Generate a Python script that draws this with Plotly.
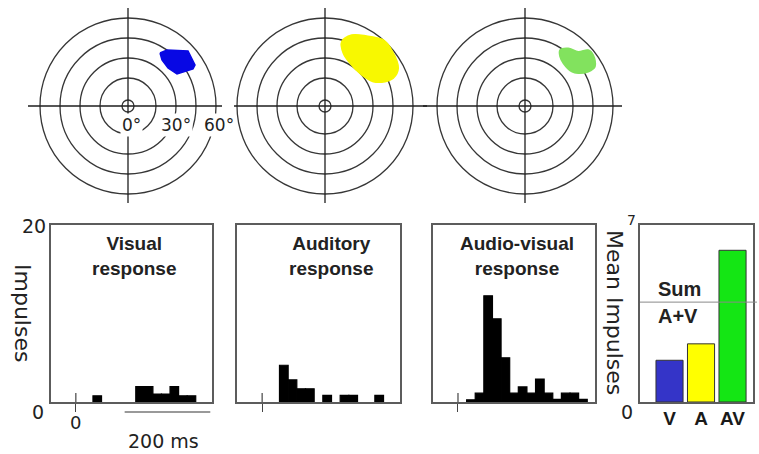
import plotly.graph_objects as go

W, H = 759, 454

# ---------------- receptive-field maps ----------------
ring_radii = [6, 28, 48, 68, 88]          # fixation circle + 15° rings (plot units)
ecc_labels = ["0°", "30°", "60°"]
ecc_label_rings = [0, 2, 4]

# field outlines: offsets from fixation (right / up positive)
visual_rf_x = [32, 39, 60, 67, 65, 49, 40, 34]
visual_rf_y = [53, 56, 55, 41, 37, 32, 38, 46]
auditory_rf_x = [16.7, 26.7, 41.7, 58.3, 66.7, 73.3, 68.3, 60, 48.3, 36.7, 25, 18.3]
auditory_rf_y = [64.3, 71, 70, 66, 56, 37.7, 27.7, 24.3, 24.3, 31, 42.7, 52.7]
bimodal_rf_x = [35, 43.3, 53.3, 63.3, 68.3, 70, 63.3, 53.3, 46.7, 38.3, 35]
bimodal_rf_y = [56, 57.7, 54.3, 56, 51, 39.3, 34.3, 32.7, 34.3, 42.7, 49.3]
rf_colors = ["#0808e4", "#f8f800", "#82e25e"]

# ---------------- peristimulus time histograms ----------------
bin_width = 20  # ms
visual_bins = [40, 140, 160, 180, 200, 220, 240, 260]
visual_counts = [0.7, 1.75, 1.75, 0.9, 0.9, 1.75, 0.7, 0.7]
auditory_bins = [40, 60, 80, 100, 140, 180, 200, 260]
auditory_counts = [4.15, 2.5, 1.5, 1.5, 0.75, 0.75, 0.75, 0.75]
av_bins = [20, 40, 60, 80, 100, 120, 140, 160, 180, 200, 220, 240, 260, 280]
av_counts = [0.25, 1, 12, 9.4, 5, 1, 1.7, 1, 2.6, 1, 0.3, 1, 1, 0.3]
psth_titles = ["Visual<br>response", "Auditory<br>response", "Audio-visual<br>response"]
psth_ymax = 20
time_range = [-58, 318]
scale_bar_ms = [114, 314]

# ---------------- mean response ----------------
mean_labels = ["V", "A", "AV"]
mean_values = [1.65, 2.3, 6.0]
mean_colors = ["#3434c8", "#ffff00", "#14e614"]
mean_ymax = 7
sum_av = mean_values[0] + mean_values[1]

# ---------------- layout helpers ----------------
def dom_x(a, b):
    return [a / W, b / W]

def dom_y(top, bottom):
    return [1 - bottom / H, 1 - top / H]

SANS = "DejaVu Sans"
ARIAL = "Liberation Sans, Arial"
TXT = "#222"

fig = go.Figure()
layout = dict(
    width=W, height=H, margin=dict(l=0, r=0, t=0, b=0),
    paper_bgcolor="white", plot_bgcolor="rgba(0,0,0,0)",
    showlegend=False, shapes=[], annotations=[],
)

def label(text, xref, yref, x, y, size, family=SANS, **kw):
    d = dict(text=text, xref=xref, yref=yref, x=x, y=y, showarrow=False,
             xanchor="center", yanchor="middle", font=dict(family=family, size=size, color=TXT))
    d.update(kw)
    layout["annotations"].append(d)

# ---- polar field diagrams (subplots 1-3) ----
centres = [128, 325, 525]
half = 102
hline_extent = [(-100, 94), (-91, 102), (-102, 97)]
rfs = [(visual_rf_x, visual_rf_y, "linear"),
       (auditory_rf_x, auditory_rf_y, "spline"),
       (bimodal_rf_x, bimodal_rf_y, "spline")]
for i, cx in enumerate(centres):
    n = i + 1
    xa, ya = f"x{n}", f"y{n}"
    layout[f"xaxis{n}"] = dict(domain=dom_x(cx - half, cx + half), range=[-half, half], anchor=ya,
                               visible=False, fixedrange=True)
    layout[f"yaxis{n}"] = dict(domain=dom_y(106 - half, 106 + half), range=[-half, half], anchor=xa,
                               visible=False, fixedrange=True)
    for r in ring_radii:
        layout["shapes"].append(dict(type="circle", xref=xa, yref=ya, x0=-r, x1=r, y0=-r, y1=r,
                                     line=dict(color="#363636", width=1.3), layer="below"))
    x0, x1 = hline_extent[i]
    layout["shapes"].append(dict(type="line", xref=xa, yref=ya, x0=x0, x1=x1, y0=0, y1=0,
                                 line=dict(color="#1e1e1e", width=1.3), layer="below"))
    layout["shapes"].append(dict(type="line", xref=xa, yref=ya, x0=0, x1=0, y0=-97, y1=98,
                                 line=dict(color="#1e1e1e", width=1.3), layer="below"))
    rx, ry, shp = rfs[i]
    fig.add_trace(go.Scatter(x=rx + [rx[0]], y=ry + [ry[0]], mode="lines", fill="toself",
                             fillcolor=rf_colors[i], line=dict(color=rf_colors[i], width=1.5, shape=shp),
                             xaxis=xa, yaxis=ya, hoverinfo="skip"))

# eccentricity labels on the first map
for lab, ri, dx in zip(ecc_labels, ecc_label_rings, [-3, 0, 3]):
    label(lab, "x1", "y1", ring_radii[ri], -19, 17, xshift=dx, bgcolor="white", borderpad=1)

# ---- PSTHs (subplots 4-6) ----
frames = [(51, 212), (237, 400), (433, 595)]
psths = [(visual_bins, visual_counts), (auditory_bins, auditory_counts), (av_bins, av_counts)]
title_ms = [135, 158, 137]
for i, ((fx0, fx1), (bins, counts)) in enumerate(zip(frames, psths)):
    n = i + 4
    xa, ya = f"x{n}", f"y{n}"
    layout[f"xaxis{n}"] = dict(domain=dom_x(fx0, fx1), range=time_range, anchor=ya, showline=True, mirror=True,
                               linecolor="#5c5c5c", linewidth=1.5, showgrid=False, zeroline=False,
                               ticks="outside", ticklen=8, tickwidth=1.2, tickcolor="#444",
                               tickvals=[0], ticktext=["0" if i == 0 else ""], ticklabelstandoff=-4,
                               tickfont=dict(family=SANS, size=18, color=TXT), fixedrange=True)
    layout[f"yaxis{n}"] = dict(domain=dom_y(225, 402), range=[0, psth_ymax], anchor=xa, showline=True,
                               mirror=True, linecolor="#5c5c5c", linewidth=1.5, showgrid=False,
                               zeroline=False, showticklabels=False, ticks="", fixedrange=True)
    fig.add_trace(go.Bar(x=[b + bin_width / 2 for b in bins], y=counts, width=bin_width,
                         marker=dict(color="black", line=dict(color="black", width=1.2)),
                         xaxis=xa, yaxis=ya, hoverinfo="skip"))
    # inner half of the stimulus-onset tick
    layout["shapes"].append(dict(type="line", xref=xa, yref=f"{ya} domain", x0=0, x1=0, y0=0, y1=9 / 177,
                                 line=dict(color="#444", width=1.2)))
    label("<b>" + psth_titles[i] + "</b>", xa, f"{ya} domain", title_ms[i], 1, 19, family=ARIAL,
          yanchor="top", yshift=-6)

# y ticks / label of the first PSTH
label("20", "x4 domain", "y4 domain", 0, 1, 19, xanchor="right", xshift=-3, yshift=-1)
label("0", "x4 domain", "y4 domain", 0, 0, 19, xanchor="right", xshift=-5, yshift=-10)
label("Impulses", "paper", "paper", 23 / W, 1 - 313 / H, 22, textangle=90)

# 200 ms scale bar
layout["shapes"].append(dict(type="line", xref="x4", yref="y4 domain", x0=scale_bar_ms[0], x1=scale_bar_ms[1],
                             y0=-10 / 177, y1=-10 / 177, line=dict(color="#777", width=1.5)))
label("200 ms", "x4", "y4 domain", sum(scale_bar_ms) / 2, -39 / 177, 19, xshift=-4)

# ---- mean impulses bar chart (subplot 7) ----
layout["xaxis7"] = dict(domain=dom_x(640, 753), range=[-0.937, 2.65], anchor="y7", showline=True, mirror=True,
                        linecolor="#5c5c5c", linewidth=1.5, showgrid=False, zeroline=False,
                        tickvals=[0, 1, 2], ticktext=[f"<b>{t}</b>" for t in mean_labels], ticks="",
                        ticklabelstandoff=-2,
                        tickfont=dict(family=ARIAL, size=19, color="#1a1a1a"), fixedrange=True)
layout["yaxis7"] = dict(domain=dom_y(225, 402), range=[0, mean_ymax], anchor="x7", showline=True, mirror=True,
                        linecolor="#5c5c5c", linewidth=1.5, showgrid=False, zeroline=False,
                        showticklabels=False, ticks="", fixedrange=True)
fig.add_trace(go.Bar(x=[0, 1, 2], y=mean_values, width=0.86,
                     marker=dict(color=mean_colors, line=dict(color="#333", width=1)),
                     xaxis="x7", yaxis="y7", hoverinfo="skip"))
layout["shapes"].append(dict(type="line", xref="x7 domain", yref="y7", x0=0, x1=1.035, y0=sum_av, y1=sum_av,
                             line=dict(color="#8a8a8a", width=1)))
label("<b>Sum</b>", "x7", "y7", -0.42, sum_av, 20, family=ARIAL, xanchor="left", yshift=13)
label("<b>A+V</b>", "x7", "y7", -0.42, sum_av, 20, family=ARIAL, xanchor="left", yshift=-14)
label(str(mean_ymax), "x7 domain", "y7 domain", 0, 1, 14, xanchor="right", xshift=-2, yshift=5)
label("0", "x7 domain", "y7 domain", 0, 0, 19, xanchor="right", xshift=-5, yshift=-10)
label("Mean Impulses", "paper", "paper", 615 / W, 1 - 312 / H, 22, textangle=90)

fig.update_layout(**layout)
fig.write_html("out.html")
